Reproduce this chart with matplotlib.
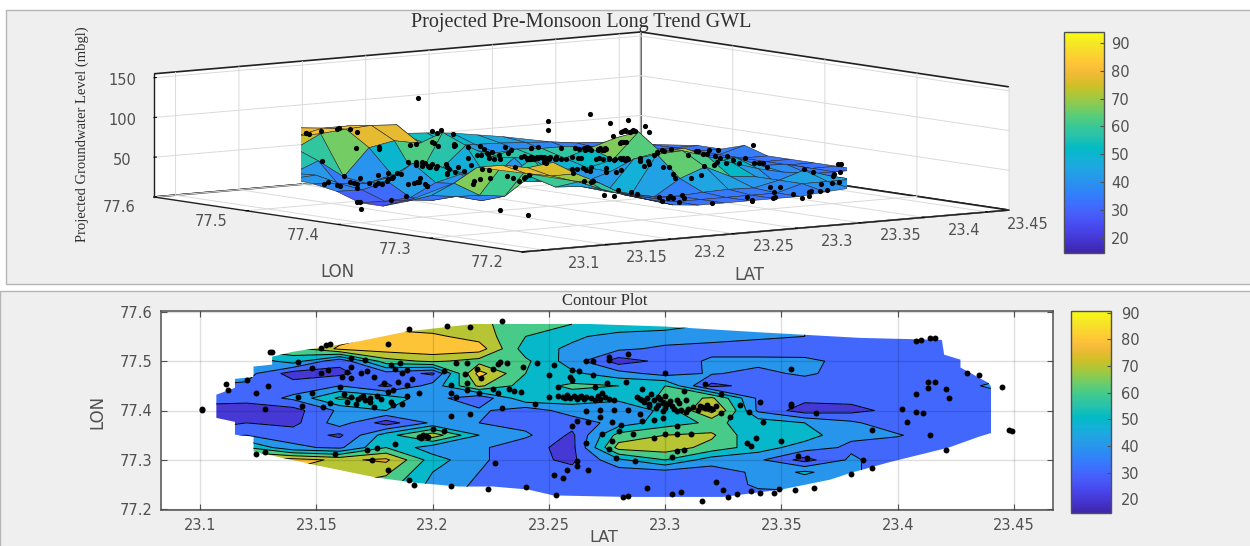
import numpy as np
import matplotlib
matplotlib.use('Agg')
import matplotlib.pyplot as plt
from matplotlib.colors import LinearSegmentedColormap, Normalize
from matplotlib.cm import ScalarMappable
from matplotlib.patches import Polygon, Rectangle
from matplotlib.path import Path
from mpl_toolkits.mplot3d import proj3d

#grid the surface is read on
lat_grid = [23.10, 23.12, 23.14, 23.16, 23.18, 23.20, 23.22, 23.24, 23.26,
            23.28, 23.30, 23.32, 23.34, 23.36, 23.38, 23.40, 23.42, 23.44]
lon_grid = [77.575, 77.55, 77.525, 77.50, 77.475, 77.45, 77.425, 77.40,
            77.375, 77.35, 77.325, 77.30, 77.275, 77.25, 77.225]

#groundwater level, one row per lon_grid value
gwl = [
    [80, 80, 80, 80, 78, 74, 72, 65, 60, 58, 55, 50, 45, 40, 38, 36, 35, 35],
    [80, 80, 80, 75, 82, 82, 76, 60, 52, 46, 45, 44, 42, 40, 36, 34, 33, 33],
    [60, 62, 66, 82, 85, 87, 85, 55, 48, 42, 38, 36, 34, 33, 33, 33, 33, 33],
    [38, 42, 55, 32, 66, 72, 66, 62, 45, 25, 33, 42, 43, 43, 36, 33, 33, 33],
    [42, 44, 25, 28, 36, 28, 84, 60, 52, 44, 36, 41, 37, 42, 35, 33, 33, 33],
    [40, 38, 35, 40, 28, 44, 72, 55, 62, 60, 60, 27, 34, 33, 33, 33, 33, 42],
    [35, 34, 42, 62, 56, 44, 32, 58, 55, 52, 62, 72, 38, 33, 33, 33, 33, 33],
    [25, 24, 26, 42, 50, 46, 42, 34, 45, 44, 52, 84, 38, 25, 27, 33, 33, 33],
    [25, 30, 27, 45, 25, 42, 40, 36, 34, 44, 55, 62, 56, 50, 42, 33, 33, 33],
    [35, 40, 36, 28, 55, 76, 50, 42, 28, 64, 70, 72, 50, 55, 42, 41, 33, 33],
    [60, 60, 42, 38, 60, 44, 42, 33, 27, 74, 76, 66, 55, 45, 38, 33, 33, 33],
    [84, 84, 84, 78, 82, 55, 42, 33, 28, 48, 60, 45, 42, 26, 42, 33, 33, 33],
    [80, 80, 78, 72, 72, 50, 40, 33, 33, 35, 36, 35, 42, 52, 42, 33, 33, 33],
    [80, 80, 75, 70, 65, 47, 38, 33, 33, 33, 33, 33, 42, 42, 42, 36, 33, 33],
    [80, 80, 75, 68, 60, 45, 36, 33, 33, 33, 33, 33, 36, 38, 38, 34, 33, 33],
]

#outline of the area that has data
hull_lat = [23.107, 23.115, 23.115, 23.123, 23.123, 23.149, 23.176, 23.192,
            23.211, 23.226, 23.241, 23.252, 23.283, 23.325, 23.35, 23.371,
            23.38, 23.397, 23.422, 23.435, 23.442, 23.442, 23.439, 23.427,
            23.427, 23.42, 23.419, 23.384, 23.342, 23.3, 23.25, 23.223,
            23.189, 23.165, 23.14, 23.131, 23.131, 23.123, 23.123, 23.115,
            23.115, 23.107]
hull_lon = [77.385, 77.377, 77.351, 77.347, 77.317, 77.29, 77.264, 77.254,
            77.246, 77.246, 77.24, 77.228, 77.225, 77.225, 77.24, 77.26,
            77.274, 77.296, 77.325, 77.347, 77.357, 77.436, 77.456, 77.487,
            77.503, 77.513, 77.543, 77.547, 77.558, 77.57, 77.578, 77.578,
            77.56, 77.537, 77.519, 77.509, 77.493, 77.489, 77.468, 77.464,
            77.446, 77.432]

#observation wells
well_lat = [23.101, 23.101, 23.111, 23.112, 23.120, 23.124, 23.124, 23.128, 23.129, 23.128,
            23.130, 23.131, 23.142, 23.142, 23.144, 23.148, 23.148, 23.152, 23.154, 23.156,
            23.152, 23.155, 23.153, 23.156, 23.160, 23.158, 23.162, 23.163, 23.161, 23.165,
            23.165, 23.163, 23.165, 23.167, 23.169, 23.171, 23.173, 23.175, 23.171, 23.172,
            23.169, 23.175, 23.172, 23.174, 23.176, 23.179, 23.181, 23.181, 23.182, 23.184,
            23.186, 23.187, 23.189, 23.182, 23.183, 23.187, 23.189, 23.183, 23.181, 23.185,
            23.189, 23.191, 23.194, 23.184, 23.190, 23.190, 23.192, 23.194, 23.196, 23.200,
            23.205, 23.206, 23.216, 23.205, 23.208, 23.210, 23.208, 23.208, 23.216, 23.208,
            23.210, 23.215, 23.214, 23.215, 23.215, 23.219, 23.220, 23.221, 23.224, 23.227,
            23.226, 23.228, 23.229, 23.232, 23.226, 23.230, 23.230, 23.228, 23.233, 23.235,
            23.238, 23.239, 23.245, 23.244, 23.250, 23.252, 23.250, 23.254, 23.240, 23.252,
            23.253, 23.256, 23.259, 23.263, 23.266, 23.270, 23.274, 23.260, 23.263, 23.260,
            23.259, 23.266, 23.269, 23.276, 23.276, 23.284, 23.269, 23.275, 23.270, 23.273,
            23.283, 23.278, 23.300, 23.317, 23.354, 23.308, 23.324, 23.290, 23.294, 23.290,
            23.297, 23.300, 23.293, 23.297, 23.301, 23.305, 23.309, 23.305, 23.309, 23.299,
            23.299, 23.316, 23.319, 23.324, 23.328, 23.332, 23.336, 23.342, 23.341, 23.354,
            23.354, 23.278, 23.284, 23.266, 23.272, 23.272, 23.262, 23.267, 23.260, 23.277,
            23.281, 23.280, 23.290, 23.295, 23.289, 23.305, 23.273, 23.277, 23.266, 23.276,
            23.279, 23.287, 23.262, 23.262, 23.267, 23.258, 23.256, 23.286, 23.295, 23.300,
            23.305, 23.311, 23.305, 23.308, 23.303, 23.335, 23.337, 23.339, 23.350, 23.357,
            23.361, 23.292, 23.282, 23.284, 23.303, 23.307, 23.316, 23.322, 23.325, 23.327,
            23.331, 23.337, 23.341, 23.347, 23.349, 23.356, 23.364, 23.380, 23.385, 23.389,
            23.389, 23.365, 23.402, 23.404, 23.408, 23.408, 23.411, 23.413, 23.416, 23.413,
            23.421, 23.422, 23.414, 23.421, 23.408, 23.410, 23.414, 23.416, 23.430, 23.435,
            23.445, 23.448, 23.449]
well_lon = [77.401, 77.404, 77.454, 77.441, 77.462, 77.436, 77.312, 77.315, 77.450, 77.404,
            77.518, 77.518, 77.499, 77.428, 77.410, 77.487, 77.435, 77.527, 77.533, 77.535,
            77.475, 77.482, 77.408, 77.416, 77.448, 77.311, 77.433, 77.418, 77.467, 77.506,
            77.489, 77.477, 77.465, 77.414, 77.427, 77.421, 77.425, 77.408, 77.502, 77.479,
            77.475, 77.467, 77.321, 77.300, 77.325, 77.456, 77.534, 77.280, 77.492, 77.485,
            77.497, 77.475, 77.482, 77.418, 77.411, 77.413, 77.429, 77.441, 77.438, 77.458,
            77.452, 77.463, 77.435, 77.332, 77.566, 77.259, 77.250, 77.347, 77.350, 77.362,
            77.358, 77.571, 77.570, 77.479, 77.435, 77.427, 77.452, 77.389, 77.393, 77.248,
            77.497, 77.497, 77.473, 77.455, 77.441, 77.485, 77.435, 77.465, 77.242, 77.294,
            77.485, 77.495, 77.499, 77.497, 77.443, 77.582, 77.406, 77.435, 77.443, 77.440,
            77.438, 77.489, 77.497, 77.414, 77.472, 77.492, 77.428, 77.448, 77.246, 77.269,
            77.228, 77.428, 77.425, 77.427, 77.428, 77.421, 77.427, 77.482, 77.481, 77.462,
            77.468, 77.501, 77.501, 77.509, 77.502, 77.514, 77.472, 77.455, 77.448, 77.435,
            77.458, 77.421, 77.475, 77.453, 77.484, 77.440, 77.433, 77.443, 77.433, 77.421,
            77.428, 77.429, 77.414, 77.411, 77.414, 77.421, 77.421, 77.398, 77.396, 77.398,
            77.385, 77.408, 77.406, 77.394, 77.386, 77.411, 77.396, 77.377, 77.418, 77.414,
            77.409, 77.402, 77.402, 77.398, 77.401, 77.387, 77.379, 77.376, 77.369, 77.376,
            77.371, 77.358, 77.378, 77.380, 77.393, 77.369, 77.352, 77.339, 77.334, 77.323,
            77.304, 77.298, 77.298, 77.288, 77.280, 77.280, 77.263, 77.352, 77.345, 77.352,
            77.352, 77.352, 77.317, 77.319, 77.306, 77.335, 77.328, 77.344, 77.339, 77.308,
            77.303, 77.244, 77.224, 77.227, 77.230, 77.234, 77.217, 77.256, 77.239, 77.224,
            77.230, 77.236, 77.232, 77.232, 77.242, 77.239, 77.243, 77.271, 77.300, 77.283,
            77.360, 77.394, 77.404, 77.376, 77.433, 77.396, 77.394, 77.458, 77.458, 77.445,
            77.443, 77.425, 77.350, 77.320, 77.541, 77.543, 77.546, 77.546, 77.475, 77.472,
            77.448, 77.360, 77.358]

#the dense bands of wells in the middle of the map
dense_lat = [23.254, 23.257, 23.258, 23.261, 23.262, 23.264, 23.265, 23.268, 23.271, 23.272,
             23.276, 23.288, 23.289, 23.291, 23.292, 23.293, 23.295, 23.296, 23.298, 23.299,
             23.300, 23.302, 23.303, 23.304, 23.306, 23.307, 23.310, 23.312, 23.314, 23.315,
             23.317, 23.318, 23.320, 23.322, 23.195, 23.197, 23.198, 23.165, 23.168, 23.170,
             23.173, 23.176, 23.178]
dense_lon = [77.430, 77.426, 77.431, 77.429, 77.424, 77.430, 77.424, 77.425, 77.430, 77.424,
             77.424, 77.428, 77.423, 77.418, 77.426, 77.409, 77.421, 77.406, 77.424, 77.415,
             77.405, 77.419, 77.409, 77.403, 77.416, 77.402, 77.403, 77.408, 77.401, 77.410,
             77.405, 77.412, 77.404, 77.409, 77.345, 77.349, 77.346, 77.428, 77.423, 77.429,
             77.418, 77.430, 77.423]

#wells that float off the surface in the 3d view
float_lat = [23.219, 23.312, 23.305, 23.318, 23.285, 23.285, 23.318, 23.153, 23.137, 23.138, 23.16]
float_lon = [77.50, 77.40, 77.41, 77.39, 77.45, 77.45, 77.45, 77.55, 77.45, 77.30, 77.30]
float_z = [123, 100, 96, 94, 94, 83, 98, 23, 3, 28, 18]

lat_ticks = [23.1, 23.15, 23.2, 23.25, 23.3, 23.35, 23.4, 23.45]
lon_ticks = [77.2, 77.3, 77.4, 77.5, 77.6]
z_ticks = [50, 100, 150]
cbar_ticks = [20, 30, 40, 50, 60, 70, 80, 90]
levels = [10, 20, 30, 40, 50, 60, 70, 80, 90]

#parula
parula_rgb = [
    (0.2422, 0.1504, 0.6603), (0.2647, 0.1978, 0.7952), (0.2783, 0.2559, 0.8991),
    (0.2810, 0.3228, 0.9579), (0.2699, 0.3892, 0.9906), (0.2206, 0.4603, 0.9973),
    (0.1786, 0.5289, 0.9682), (0.1540, 0.5902, 0.9218), (0.1248, 0.6459, 0.8883),
    (0.0689, 0.6948, 0.8394), (0.0067, 0.7312, 0.7660), (0.1408, 0.7584, 0.6842),
    (0.2161, 0.7843, 0.5923), (0.3406, 0.8008, 0.4789), (0.5044, 0.7993, 0.3480),
    (0.6720, 0.7793, 0.2227), (0.8203, 0.7498, 0.1535), (0.9393, 0.7288, 0.2100),
    (0.9970, 0.7659, 0.2199), (0.9786, 0.8386, 0.1766), (0.9597, 0.9135, 0.1423),
    (0.9769, 0.9839, 0.0805),
]
parula = LinearSegmentedColormap.from_list('parula', parula_rgb, N=256)

W, H = 1250, 546
TICK_GREY = '#505050'
SANS = 'DejaVu Sans'
SERIF = 'Liberation Serif'

fig = plt.figure(figsize=(W / 100, H / 100), dpi=100, facecolor='white')


#rect in reference pixels to figure fractions
def rect_px(x0, y0, x1, y1):
    return [x0 / W, 1 - y1 / H, (x1 - x0) / W, (y1 - y0) / H]


#grey panel backgrounds, behind the axes
for (x0, y0, x1, y1) in [(6, 10, 1251, 284), (0, 291, 1251, 547)]:
    fig.add_artist(Rectangle((x0 / W, 1 - y1 / H), (x1 - x0) / W, (y1 - y0) / H,
                             transform=fig.transFigure, facecolor='#efefef',
                             edgecolor='#b5b5b5', linewidth=1, zorder=-5))

lat_arr = np.array(lat_grid)
lon_arr = np.array(lon_grid)
gwl_arr = np.array(gwl, dtype=float)
X, Y = np.meshgrid(lat_arr, lon_arr)
hull = np.column_stack([hull_lat, hull_lon])
all_lat = well_lat + dense_lat
all_lon = well_lon + dense_lon


#z of a well is the grid value nearest to it
def nearest_gwl(lat, lon):
    i = np.abs(lon_arr - lon).argmin()
    j = np.abs(lat_arr - lat).argmin()
    return gwl_arr[i, j]


#----------------------------------------------------------
#3d panel

LAT_LIM = (23.083, 23.467)
LON_LIM = (77.2, 77.6)
Z_LIM = (0, 155)

ax3 = fig.add_axes(rect_px(350, 0, 896, 546), projection='3d',
                   proj_type='ortho', computed_zorder=False)
ax3.patch.set_alpha(0)
ax3.set_xlim(*LAT_LIM)
ax3.set_ylim(*LON_LIM)
ax3.set_zlim(*Z_LIM)
ax3.view_init(elev=6.5, azim=-127.2)
box_aspect = (611, 609, 124)
ax3.set_box_aspect(box_aspect, zoom=1)


def corner_disp(lat, lon, z):
    ax3.apply_aspect()
    x2, y2, _ = proj3d.proj_transform(lat, lon, z, ax3.get_proj())
    return ax3.transData.transform((x2, y2))


#size and shift the box so its floor corners land where they should
a = corner_disp(LAT_LIM[0], LON_LIM[1], 0)
b = corner_disp(LAT_LIM[1], LON_LIM[0], 0)
ax3.set_box_aspect(box_aspect, zoom=(1009 - 154) / (b[0] - a[0]))
a = corner_disp(LAT_LIM[0], LON_LIM[1], 0)
dx = 154 - a[0]
dy = (H - 197) - a[1]
ax3.set_position(rect_px(350 + dx, -dy, 896 + dx, 546 - dy))

cmap_norm3 = Normalize(14.6, 93.9)

#keep grid nodes in the outline or close to one of its points
nodes = np.column_stack([X.ravel(), Y.ravel()])
near_hull = np.sqrt(((nodes[:, None, :] - hull[None, :, :]) ** 2).sum(axis=2)).min(axis=1) < 0.022
inside = Path(hull).contains_points(nodes) | near_hull
gwl_surf = np.where(inside.reshape(X.shape), gwl_arr, np.nan)
ax3.plot_surface(X, Y, gwl_surf, cmap=parula, norm=cmap_norm3, rstride=1, cstride=1,
                 edgecolor='#2a2a2a', linewidth=0.4, shade=False, antialiased=True, zorder=2)

well_z = [nearest_gwl(la, lo) for la, lo in zip(all_lat, all_lon)]
ax3.scatter(all_lat + float_lat, all_lon + float_lon, well_z + float_z,
            c='black', s=14, depthshade=False, zorder=5, linewidths=0)

for axis in (ax3.xaxis, ax3.yaxis, ax3.zaxis):
    axis.set_pane_color((1, 1, 1, 1))
    axis.pane.set_edgecolor('#202020')
    axis.pane.set_linewidth(1.2)
    axis.line.set_color('#202020')
    axis.line.set_linewidth(1)
    axis._axinfo['grid'].update(color='#dadada', linewidth=0.7)
    axis._axinfo['tick'].update(inward_factor=0.0, outward_factor=0.06, color='#303030')
ax3.set_xticks(lat_ticks)
ax3.set_yticks(lon_ticks)
ax3.set_zticks(z_ticks)
ax3.set_xticklabels([])
ax3.set_yticklabels([])
ax3.set_zticklabels([])

proj = ax3.get_proj()


#tick label at a 3d location, moved by an offset in pixels
def label_3d(text, lat, lon, z, off_x, off_y):
    x2, y2, _ = proj3d.proj_transform(lat, lon, z, proj)
    ax3.annotate(text, (x2, y2), xytext=(off_x * 0.72, off_y * 0.72), textcoords='offset points',
                 ha='center', va='center', fontsize=10.5, family=SANS, color=TICK_GREY,
                 annotation_clip=False)


for t in lat_ticks:
    label_3d(f'{t:g}', t, LON_LIM[0], 0, 40, -13)
for t in lon_ticks:
    label_3d(f'{t:g}', LAT_LIM[0], t, 0, -35, -11)
for t in z_ticks:
    label_3d(f'{t:g}', LAT_LIM[0], LON_LIM[1], t, -32, -3)

fig.text(581 / W, 1 - 23 / H, 'Projected Pre-Monsoon Long Trend GWL', ha='center', va='center',
         fontsize=14.5, family=SERIF, color='#303030')
fig.text(82 / W, 1 - 134 / H, 'Projected Groundwater Level (mbgl)', rotation=90, ha='center',
         va='center', fontsize=10.5, family=SERIF, color='#303030')
fig.text(337 / W, 1 - 272 / H, 'LON', ha='center', va='center', fontsize=12, family=SANS, color=TICK_GREY)
fig.text(749 / W, 1 - 275 / H, 'LAT', ha='center', va='center', fontsize=12, family=SANS, color=TICK_GREY)


#colorbar on its own small axes
def draw_cbar(rect, norm, pad):
    cax = fig.add_axes(rect)
    cb = fig.colorbar(ScalarMappable(norm=norm, cmap=parula), cax=cax, ticks=cbar_ticks)
    cb.outline.set_edgecolor(TICK_GREY)
    cb.outline.set_linewidth(1)
    cax.tick_params(direction='in', length=3, width=0.8, color=TICK_GREY, labelcolor=TICK_GREY,
                    labelsize=10.5, pad=pad)
    for lab in cax.get_yticklabels():
        lab.set_family(SANS)


draw_cbar(rect_px(1064, 32, 1104, 253), cmap_norm3, 5)

#------------------------------------------------------------
#contour panel

ax2 = fig.add_axes(rect_px(161, 311, 1053, 510))
ax2.set_xlim(23.0832, 23.4668)
ax2.set_ylim(77.1985, 77.6015)
ax2.set_axisbelow(False)
ax2.grid(True, color='black', alpha=0.13, linewidth=1)

norm2 = Normalize(14.8, 90.7)
fill_colors = [parula(norm2(max(lv, 15))) for lv in levels[:-1]]
cf = ax2.contourf(X, Y, gwl_arr, levels=levels, colors=fill_colors, zorder=2)
cl = ax2.contour(X, Y, gwl_arr, levels=levels, colors='black', linewidths=0.7, zorder=3)
clip = Polygon(hull, closed=True, transform=ax2.transData, facecolor='none', edgecolor='none')
ax2.add_patch(clip)
cf.set_clip_path(clip)
cl.set_clip_path(clip)

ax2.scatter(all_lat, all_lon, c='black', s=18, zorder=5, linewidths=0, clip_on=False)

ax2.set_xticks(lat_ticks)
ax2.set_xticklabels([f'{t:g}' for t in lat_ticks])
ax2.set_yticks(lon_ticks)
ax2.set_yticklabels([f'{t:g}' for t in lon_ticks])
ax2.tick_params(direction='in', top=True, right=True, length=4, width=0.8, color=TICK_GREY,
                labelcolor=TICK_GREY, labelsize=10.5, pad=6)
for lab in ax2.get_xticklabels() + ax2.get_yticklabels():
    lab.set_family(SANS)
for spine in ax2.spines.values():
    spine.set_color(TICK_GREY)
    spine.set_linewidth(1.1)

fig.text(605 / W, 1 - 301 / H, 'Contour Plot', ha='center', va='center', fontsize=12,
         family=SERIF, color='#303030')
fig.text(604 / W, 1 - 538 / H, 'LAT', ha='center', va='center', fontsize=11.5, family=SANS, color=TICK_GREY)
fig.text(97 / W, 1 - 412 / H, 'LON', rotation=90, ha='center', va='center', fontsize=12,
         family=SANS, color=TICK_GREY)

draw_cbar(rect_px(1071, 311, 1111, 513), norm2, 7)

fig.savefig('out.png', dpi=100)
